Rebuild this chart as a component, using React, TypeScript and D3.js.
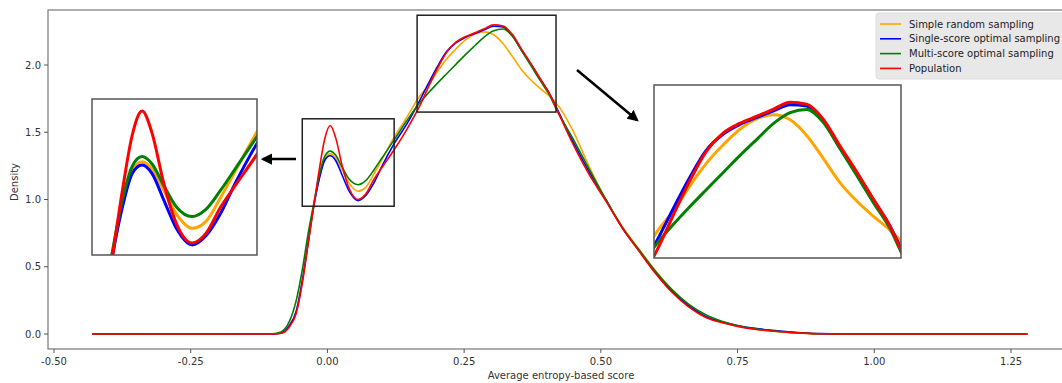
import React from 'react';
import * as d3 from 'd3';

// x grid for the KDE curves (average entropy-based score)
const scores = [
  -0.43, -0.1, -0.085, -0.07, -0.057, -0.045, -0.036, -0.025, -0.015, -0.005,
  0.005, 0.015, 0.027, 0.04, 0.056, 0.07, 0.085, 0.1, 0.122, 0.145,
  0.168, 0.184, 0.2, 0.218, 0.235, 0.252, 0.27, 0.287, 0.304, 0.321,
  0.338, 0.355, 0.373, 0.39, 0.407, 0.418, 0.448, 0.478, 0.509, 0.539,
  0.569, 0.6, 0.63, 0.661, 0.691, 0.721, 0.752, 0.782, 0.813, 0.843,
  0.874, 0.9, 0.95, 1.28,
];

const simpleRandom = [
  0, 0, 0.006, 0.06, 0.17, 0.42, 0.66, 0.95, 1.16, 1.3,
  1.339, 1.31, 1.22, 1.12, 1.061, 1.09, 1.19, 1.3, 1.464, 1.61,
  1.765, 1.845, 1.945, 2.045, 2.12, 2.185, 2.23, 2.246, 2.225, 2.16,
  2.065, 1.965, 1.885, 1.822, 1.765, 1.72, 1.52, 1.25, 1.0, 0.8,
  0.635, 0.47, 0.33, 0.215, 0.135, 0.088, 0.058, 0.036, 0.022, 0.012,
  0.005, 0.002, 0, 0,
];

const singleScore = [
  0, 0, 0.006, 0.06, 0.17, 0.42, 0.66, 0.95, 1.15, 1.29,
  1.325, 1.29, 1.18, 1.06, 0.992, 1.03, 1.124, 1.25, 1.415, 1.56,
  1.73, 1.857, 1.98, 2.1, 2.165, 2.205, 2.235, 2.262, 2.288, 2.282,
  2.22, 2.11, 2.0, 1.89, 1.78, 1.69, 1.44, 1.21, 1.0, 0.79,
  0.625, 0.46, 0.32, 0.21, 0.13, 0.09, 0.062, 0.042, 0.028, 0.017,
  0.008, 0.003, 0, 0,
];

const multiScore = [
  0, 0.002, 0.015, 0.09, 0.25, 0.5, 0.73, 0.97, 1.18, 1.32,
  1.36, 1.33, 1.24, 1.15, 1.11, 1.14, 1.22, 1.31, 1.443, 1.585,
  1.715, 1.79, 1.86, 1.935, 2.005, 2.075, 2.145, 2.21, 2.255, 2.268,
  2.215, 2.107, 1.99, 1.878, 1.77, 1.676, 1.46, 1.23, 1.0, 0.795,
  0.63, 0.465, 0.33, 0.22, 0.145, 0.095, 0.06, 0.038, 0.024, 0.013,
  0.006, 0.002, 0, 0,
];

const population = [
  0, 0, 0.005, 0.05, 0.154, 0.4, 0.65, 0.95, 1.22, 1.45,
  1.55, 1.46, 1.25, 1.08, 1.0, 1.04, 1.15, 1.24, 1.37, 1.52,
  1.69, 1.83, 1.965, 2.095, 2.17, 2.21, 2.24, 2.27, 2.298, 2.29,
  2.228, 2.118, 2.005, 1.892, 1.78, 1.683, 1.42, 1.19, 0.99, 0.79,
  0.62, 0.45, 0.31, 0.2, 0.125, 0.085, 0.055, 0.035, 0.022, 0.012,
  0.006, 0.002, 0, 0,
];

const seriesNames = [
  'Simple random sampling',
  'Single-score optimal sampling',
  'Multi-score optimal sampling',
  'Population',
];
const seriesColors = ['#ffa500', '#0000ff', '#008000', '#ff0000'];
const seriesValues = [simpleRandom, singleScore, multiScore, population];

const xTicks = [-0.5, -0.25, 0, 0.25, 0.5, 0.75, 1.0, 1.25];
const yTicks = [0, 0.5, 1.0, 1.5, 2.0];

// zoomed regions (data coords)
const smallZoom = { x: [-0.046, 0.122], y: [0.95, 1.6] };
const bigZoom = { x: [0.164, 0.418], y: [1.65, 2.37] };

const W = 1062;
const H = 383;
const plot = { left: 48, top: 10, right: 1066, bottom: 349 };
const font = 'DejaVu Sans, sans-serif';

type Pt = [number, number];

const Curves = ({ x, y, width }: { x: d3.ScaleLinear<number, number>; y: d3.ScaleLinear<number, number>; width: number }) => {
  const line = d3.line<Pt>()
    .x(d => x(d[0]))
    .y(d => y(d[1]))
    .curve(d3.curveMonotoneX);
  return (
    <g>
      {seriesValues.map((vals, i) => {
        const pts: Pt[] = scores.map((s, j) => [s, vals[j]]);
        return (
          <path key={i} d={line(pts) || ''} fill="none" stroke={seriesColors[i]}
            strokeWidth={width} strokeLinejoin="round" />
        );
      })}
    </g>
  );
};

const App = () => {
  const x = d3.scaleLinear().domain([-0.5, 1.25]).range([54, 1011]);
  const y = d3.scaleLinear().domain([0, 2]).range([334, 65]);

  // inset scales
  const sx = d3.scaleLinear().domain(smallZoom.x).range([92, 257]);
  const sy = d3.scaleLinear().domain(smallZoom.y).range([255, 99]);
  const bx = d3.scaleLinear().domain(bigZoom.x).range([654, 901]);
  const by = d3.scaleLinear().domain(bigZoom.y).range([258, 85]);

  return (
    <svg width={W} height={H} style={{ position: 'absolute', left: 0, top: 0, background: '#fff' }}
      fontFamily={font}>
      <defs>
        <clipPath id="plotClip">
          <rect x={plot.left} y={plot.top} width={plot.right - plot.left} height={plot.bottom - plot.top} />
        </clipPath>
        <clipPath id="smallClip">
          <rect x={sx.range()[0]} y={sy.range()[1]} width={sx.range()[1] - sx.range()[0]} height={sy.range()[0] - sy.range()[1]} />
        </clipPath>
        <clipPath id="bigClip">
          <rect x={bx.range()[0]} y={by.range()[1]} width={bx.range()[1] - bx.range()[0]} height={by.range()[0] - by.range()[1]} />
        </clipPath>
        <marker id="arrowHead" viewBox="0 0 10 10" refX="8" refY="5" markerWidth="4.5" markerHeight="4.5" orient="auto">
          <path d="M0,0 L10,5 L0,10 z" fill="#000" />
        </marker>
      </defs>

      {/* spines */}
      <rect x={plot.left} y={plot.top} width={plot.right - plot.left} height={plot.bottom - plot.top}
        fill="none" stroke="#777" strokeWidth={1.2} />

      {/* x ticks */}
      {xTicks.map(t => (
        <g key={t} transform={`translate(${x(t)},${plot.bottom})`}>
          <line y2={4} stroke="#555" />
          <text y={16} textAnchor="middle" fontSize={10} fill="#333">{t.toFixed(2)}</text>
        </g>
      ))}
      {/* y ticks */}
      {yTicks.map(t => (
        <g key={t} transform={`translate(${plot.left},${y(t)})`}>
          <line x2={-4} stroke="#555" />
          <text x={-7} dy="0.35em" textAnchor="end" fontSize={10} fill="#333">{t.toFixed(1)}</text>
        </g>
      ))}
      <text x={561} y={379} textAnchor="middle" fontSize={10} fill="#333">Average entropy-based score</text>
      <text transform="translate(18,182) rotate(-90)" textAnchor="middle" fontSize={10} fill="#333">Density</text>

      {/* main curves */}
      <g clipPath="url(#plotClip)">
        <Curves x={x} y={y} width={1.6} />
      </g>

      {/* zoom boxes on main plot */}
      <rect x={x(smallZoom.x[0])} y={y(smallZoom.y[1])} width={x(smallZoom.x[1]) - x(smallZoom.x[0])}
        height={y(smallZoom.y[0]) - y(smallZoom.y[1])} fill="none" stroke="#222" strokeWidth={1.5} />
      <rect x={x(bigZoom.x[0])} y={y(bigZoom.y[1])} width={x(bigZoom.x[1]) - x(bigZoom.x[0])}
        height={y(bigZoom.y[0]) - y(bigZoom.y[1])} fill="none" stroke="#222" strokeWidth={1.5} />

      {/* small inset */}
      <rect x={sx.range()[0]} y={sy.range()[1]} width={sx.range()[1] - sx.range()[0]} height={sy.range()[0] - sy.range()[1]}
        fill="#fff" />
      <g clipPath="url(#smallClip)">
        <Curves x={sx} y={sy} width={3} />
      </g>
      <rect x={sx.range()[0]} y={sy.range()[1]} width={sx.range()[1] - sx.range()[0]} height={sy.range()[0] - sy.range()[1]}
        fill="none" stroke="#555" strokeWidth={1.5} />

      {/* big inset */}
      <rect x={bx.range()[0]} y={by.range()[1]} width={bx.range()[1] - bx.range()[0]} height={by.range()[0] - by.range()[1]}
        fill="#fff" />
      <g clipPath="url(#bigClip)">
        <Curves x={bx} y={by} width={3} />
      </g>
      <rect x={bx.range()[0]} y={by.range()[1]} width={bx.range()[1] - bx.range()[0]} height={by.range()[0] - by.range()[1]}
        fill="none" stroke="#555" strokeWidth={1.5} />

      {/* arrows */}
      <line x1={296} y1={159} x2={263} y2={159} stroke="#000" strokeWidth={2.5} markerEnd="url(#arrowHead)" />
      <line x1={577} y1={70} x2={637} y2={120} stroke="#000" strokeWidth={2.5} markerEnd="url(#arrowHead)" />

      {/* legend */}
      <rect x={876} y={13} width={200} height={66} rx={3} fill="#e8e8e8" stroke="#ddd" />
      {seriesNames.map((name, i) => (
        <g key={name} transform={`translate(880,${24 + i * 14.8})`}>
          <line x1={0} x2={21} stroke={seriesColors[i]} strokeWidth={1.6} />
          <text x={29} dy="0.35em" fontSize={10} fill="#222">{name}</text>
        </g>
      ))}
    </svg>
  );
};

export default App;
